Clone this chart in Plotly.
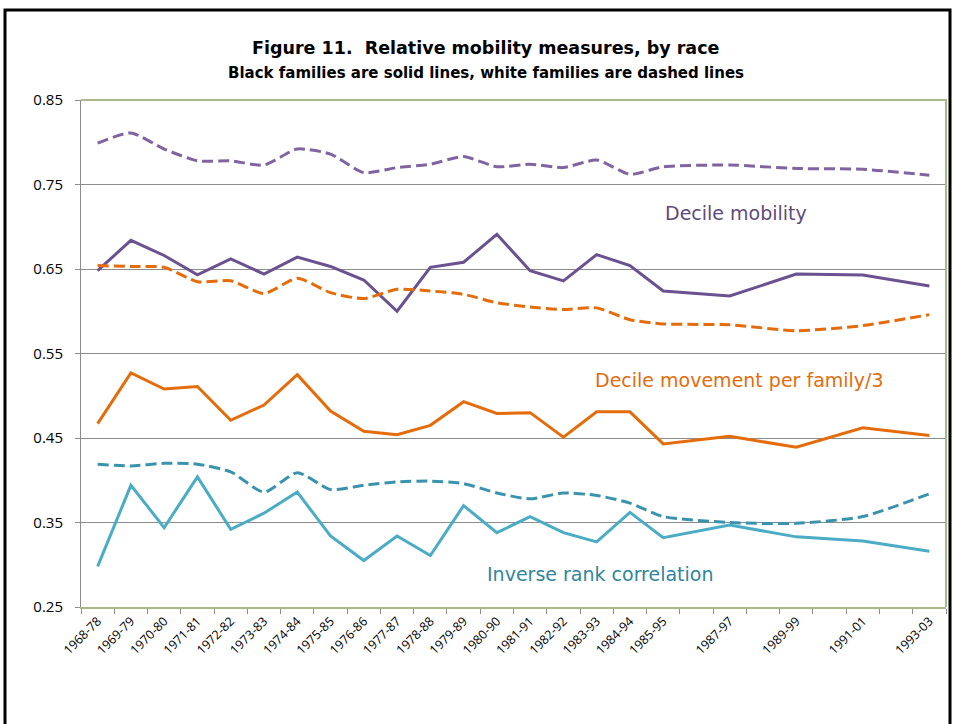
import plotly.graph_objects as go

# ── data ────────────────────────────────────────────────────────────────────
years = [1968, 1969, 1970, 1971, 1972, 1973, 1974, 1975, 1976, 1977, 1978,
         1979, 1980, 1981, 1982, 1983, 1984, 1985, 1987, 1989, 1991, 1993]
period_labels = ["1968-78", "1969-79", "1970-80", "1971-81", "1972-82",
                 "1973-83", "1974-84", "1975-85", "1976-86", "1977-87",
                 "1978-88", "1979-89", "1980-90", "1981-91", "1982-92",
                 "1983-93", "1984-94", "1985-95", "1987-97", "1989-99",
                 "1991-01", "1993-03"]

decile_mobility_white = [0.799, 0.811, 0.792, 0.778, 0.778, 0.773, 0.792,
                         0.786, 0.764, 0.770, 0.774, 0.783, 0.771, 0.774,
                         0.770, 0.779, 0.762, 0.771, 0.773, 0.769, 0.768,
                         0.761]
decile_mobility_black = [0.648, 0.684, 0.666, 0.643, 0.662, 0.644, 0.664,
                         0.653, 0.637, 0.600, 0.652, 0.658, 0.691, 0.648,
                         0.636, 0.667, 0.654, 0.624, 0.618, 0.644, 0.643,
                         0.630]
decile_movement_white = [0.654, 0.653, 0.652, 0.635, 0.636, 0.621, 0.639,
                         0.622, 0.615, 0.626, 0.624, 0.620, 0.610, 0.605,
                         0.602, 0.604, 0.590, 0.585, 0.584, 0.577, 0.583,
                         0.596]
decile_movement_black = [0.467, 0.527, 0.508, 0.511, 0.471, 0.489, 0.525,
                         0.482, 0.458, 0.454, 0.465, 0.493, 0.479, 0.480,
                         0.451, 0.481, 0.481, 0.443, 0.452, 0.439, 0.462,
                         0.453]
inverse_rank_white = [0.419, 0.417, 0.420, 0.419, 0.410, 0.386, 0.409,
                      0.389, 0.394, 0.398, 0.399, 0.396, 0.385, 0.378,
                      0.385, 0.382, 0.373, 0.357, 0.350, 0.349, 0.357,
                      0.384]
inverse_rank_black = [0.298, 0.394, 0.344, 0.404, 0.342, 0.361, 0.386,
                      0.334, 0.305, 0.334, 0.311, 0.370, 0.338, 0.357,
                      0.338, 0.327, 0.362, 0.332, 0.347, 0.333, 0.328,
                      0.316]

y_ticks = [0.25, 0.35, 0.45, 0.55, 0.65, 0.75, 0.85]

# ── colours / fonts ─────────────────────────────────────────────────────────
PURPLE = "#8064A2"
PURPLE_DARK = "#6A5190"
ORANGE = "#E46C0A"
TEAL = "#4BACC6"
TEAL_DARK = "#3A93AD"
GRID = "#8C8C8C"
OLIVE = "#A8B98A"
TITLE_FONT = "'DejaVu Sans', sans-serif"
TICK_FONT = "'Open Sans', sans-serif"

W, H = 954, 724
L, R, T, B = 81, 8, 100, 117

fig = go.Figure()


def add_line(values, colour, dashed):
    fig.add_trace(go.Scatter(
        x=years,
        y=values,
        mode="lines",
        line=dict(
            color=colour,
            width=3,
            dash="11px,5px" if dashed else "solid",
            shape="spline" if dashed else "linear",
            smoothing=0.6,
        ),
        showlegend=False,
        hoverinfo="skip",
    ))


add_line(decile_mobility_white, PURPLE, True)
add_line(decile_mobility_black, PURPLE_DARK, False)
add_line(decile_movement_white, ORANGE, True)
add_line(decile_movement_black, ORANGE, False)
add_line(inverse_rank_white, TEAL_DARK, True)
add_line(inverse_rank_black, TEAL, False)

# in-plot series labels
labels = [
    ("Decile mobility", 1987.2, 0.7165, "#604A7B"),
    ("Decile movement per family/3", 1987.3, 0.5185, ORANGE),
    ("Inverse rank correlation", 1983.1, 0.2885, "#31859C"),
]
for text, lx, ly, col in labels:
    fig.add_annotation(
        x=lx, y=ly, text=text, showarrow=False,
        font=dict(family=TITLE_FONT, size=19, color=col),
        xanchor="center", yanchor="middle",
    )

# title
pw, ph = W - L - R, H - T - B
fig.add_annotation(
    xref="paper", yref="paper",
    x=(486 - L) / pw, y=(H - B - 48) / ph,
    text="<b>Figure 11.  Relative mobility measures, by race</b>",
    showarrow=False, xanchor="center", yanchor="middle",
    font=dict(family=TITLE_FONT, size=17.5, color="black"),
)
fig.add_annotation(
    xref="paper", yref="paper",
    x=(486 - L) / pw, y=(H - B - 73) / ph,
    text="<b>Black families are solid lines, white families are dashed lines</b>",
    showarrow=False, xanchor="center", yanchor="middle",
    font=dict(family=TITLE_FONT, size=15, color="black"),
)

# outer black frame
fig.add_shape(
    type="rect", xref="paper", yref="paper",
    x0=(5 - L) / pw, x1=(950 - L) / pw,
    y0=(H - B - 760) / ph, y1=(H - B - 10) / ph,
    line=dict(color="black", width=3), layer="above",
)
# olive plot-area border (top + right)
fig.add_shape(
    type="path", xref="paper", yref="paper",
    path="M 0 1 L 1 1 L 1 0",
    line=dict(color=OLIVE, width=2), layer="above",
)

fig.update_layout(
    width=W, height=H,
    margin=dict(l=L, r=R, t=T, b=B),
    paper_bgcolor="white",
    plot_bgcolor="white",
    showlegend=False,
    font=dict(family=TICK_FONT, color="black"),
)
fig.update_xaxes(
    range=[1967.5, 1993.5],
    tickmode="array",
    tickvals=years,
    ticktext=period_labels,
    tickangle=-45,
    tickfont=dict(size=12.5, family=TICK_FONT),
    ticks="",
    showgrid=False,
    zeroline=False,
    showline=True,
    linecolor=OLIVE,
    linewidth=2,
    minor=dict(ticks="outside", tick0=1967.5, dtick=1, ticklen=5,
               tickcolor=GRID, showgrid=False),
)
fig.update_yaxes(
    range=[0.25, 0.85],
    tickmode="array",
    tickvals=y_ticks,
    tickformat=".2f",
    tickfont=dict(size=15, family=TICK_FONT),
    ticks="outside",
    ticklen=5,
    tickcolor=GRID,
    ticklabelstandoff=9,
    showgrid=True,
    gridcolor=GRID,
    gridwidth=1,
    zeroline=False,
    showline=True,
    linecolor=GRID,
    linewidth=1,
)

fig.write_html(
    "out.html",
    config={"displayModeBar": False},
    post_script="document.body.style.margin='0px';",
)
